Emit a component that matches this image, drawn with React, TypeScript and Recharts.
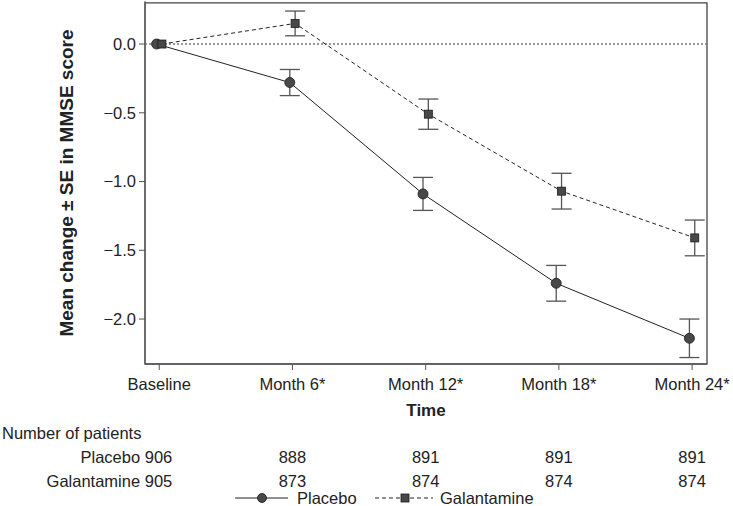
import React from "react";
import { LineChart, Line, XAxis, YAxis, ErrorBar, ReferenceLine, ReferenceArea, Legend } from "recharts";

const timeLabels = ["Baseline", "Month 6*", "Month 12*", "Month 18*", "Month 24*"];
const timeIdx = [0, 1, 2, 3, 4];
const placeboMean = [0, -0.28, -1.09, -1.74, -2.14];
const placeboSE = [0, 0.095, 0.12, 0.13, 0.14];
const galMean = [0, 0.15, -0.51, -1.07, -1.41];
const galSE = [0, 0.09, 0.11, 0.13, 0.13];
const placeboN = [906, 888, 891, 891, 891];
const galN = [905, 873, 874, 874, 874];
const yTicks = [-2.0, -1.5, -1.0, -0.5, 0.0];

const SHIFT = 0.02;
const placeboData = timeIdx.map((t, i) => ({ x: t - SHIFT, y: placeboMean[i], se: placeboSE[i] }));
const galData = timeIdx.map((t, i) => ({ x: t + SHIFT, y: galMean[i], se: galSE[i] }));

const X_DOMAIN: [number, number] = [-0.107, 4.112];
const Y_DOMAIN: [number, number] = [-2.327, 0.313];
const INK = "#222";
const AXIS = "#555";
const FS = 16.5;

function fmtY(v: number) {
  const s = Math.abs(v).toFixed(1);
  return v < 0 ? "\u2212" + s : s;
}

function CircleDot(props: any) {
  const { cx, cy } = props;
  if (cx == null || cy == null) return null;
  return <circle cx={cx} cy={cy} r={5} fill="#484848" stroke="#1a1a1a" strokeWidth={0.8} />;
}

function SquareDot(props: any) {
  const { cx, cy } = props;
  if (cx == null || cy == null) return null;
  return <rect x={cx - 4} y={cy - 4} width={8} height={8} fill="#484848" stroke="#1a1a1a" strokeWidth={0.8} />;
}

// time label plus the "number of patients" rows under each tick
function TimeTick(props: any) {
  const { x, y, payload } = props;
  const i = payload.value as number;
  return (
    <g fontSize={FS} fill={INK}>
      <text x={x} y={y} dy={18} textAnchor="middle">{timeLabels[i]}</text>
      {i === 0 && <text x={2} y={y} dy={67} textAnchor="start">Number of patients</text>}
      {i === 0 ? (
        <>
          <text x={x + 13} y={y} dy={91} textAnchor="end">{"Placebo " + placeboN[0]}</text>
          <text x={x + 13} y={y} dy={115} textAnchor="end">{"Galantamine " + galN[0]}</text>
        </>
      ) : (
        <>
          <text x={x} y={y} dy={91} textAnchor="middle">{placeboN[i]}</text>
          <text x={x} y={y} dy={115} textAnchor="middle">{galN[i]}</text>
        </>
      )}
    </g>
  );
}

function LegendBox() {
  return (
    <svg width={733} height={16} style={{ display: "block" }}>
      <line x1={235} x2={288} y1={8} y2={8} stroke={INK} strokeWidth={1} />
      <circle cx={262} cy={8} r={4.5} fill="#484848" stroke="#1a1a1a" strokeWidth={0.8} />
      <text x={297} y={14} fontSize={FS} fill={INK}>Placebo</text>
      <line x1={375} x2={433} y1={8} y2={8} stroke={INK} strokeWidth={1} strokeDasharray="4 3" />
      <rect x={401} y={4} width={8} height={8} fill="#484848" stroke="#1a1a1a" strokeWidth={0.8} />
      <text x={440} y={14} fontSize={FS} fill={INK}>Galantamine</text>
    </svg>
  );
}

export default function App() {
  return (
    <div style={{ position: "fixed", left: 0, top: 0, width: 733, height: 506, background: "#fff", fontFamily: "'Liberation Sans', Arial, sans-serif" }}>
      <LineChart width={733} height={506} margin={{ top: 1, right: 26, left: 0, bottom: 0 }}>
        <XAxis
          xAxisId="main"
          dataKey="x"
          type="number"
          domain={X_DOMAIN}
          ticks={timeIdx}
          allowDataOverflow
          height={126}
          tickSize={6}
          tickMargin={2}
          stroke={AXIS}
          tick={<TimeTick />}
          label={{
            content: (p: any) => (
              <text x={426} y={p.viewBox.y + 52} textAnchor="middle" fontSize={17} fontWeight="bold" fill={INK}>
                Time
              </text>
            ),
          }}
        />
        <YAxis
          yAxisId="left"
          type="number"
          domain={Y_DOMAIN}
          ticks={yTicks}
          allowDataOverflow
          width={145}
          tickSize={6}
          tickMargin={3}
          stroke={AXIS}
          tick={{ fontSize: FS, fill: INK }}
          tickFormatter={fmtY}
          label={{
            content: () => (
              <text x={66} y={183} transform="rotate(-90 66 183)" textAnchor="middle" dominantBaseline="central" fontSize={19} fontWeight="bold" fill={INK}>
                Mean change ± SE in MMSE score
              </text>
            ),
          }}
        />
        <ReferenceArea
          xAxisId="main"
          yAxisId="left"
          x1={X_DOMAIN[0]}
          x2={X_DOMAIN[1]}
          y1={Y_DOMAIN[0]}
          y2={0.3}
          ifOverflow="visible"
          fill="none"
          fillOpacity={0}
          stroke="#444"
          strokeWidth={1.3}
        />
        <ReferenceLine xAxisId="main" yAxisId="left" y={0} stroke="#777" strokeWidth={1.5} strokeDasharray="2 2" />
        <Legend verticalAlign="bottom" height={16} content={() => <LegendBox />} wrapperStyle={{ left: 0, width: 733 }} />
        <Line
          xAxisId="main"
          yAxisId="left"
          data={placeboData}
          dataKey="y"
          name="Placebo"
          stroke={INK}
          strokeWidth={1}
          dot={<CircleDot />}
          activeDot={false}
          isAnimationActive={false}
        >
          <ErrorBar dataKey="se" direction="y" width={10} stroke="#555" strokeWidth={1.3} isAnimationActive={false} />
        </Line>
        <Line
          xAxisId="main"
          yAxisId="left"
          data={galData}
          dataKey="y"
          name="Galantamine"
          stroke={INK}
          strokeWidth={1}
          strokeDasharray="4 3"
          dot={<SquareDot />}
          activeDot={false}
          isAnimationActive={false}
        >
          <ErrorBar dataKey="se" direction="y" width={10} stroke="#555" strokeWidth={1.3} isAnimationActive={false} />
        </Line>
      </LineChart>
    </div>
  );
}
